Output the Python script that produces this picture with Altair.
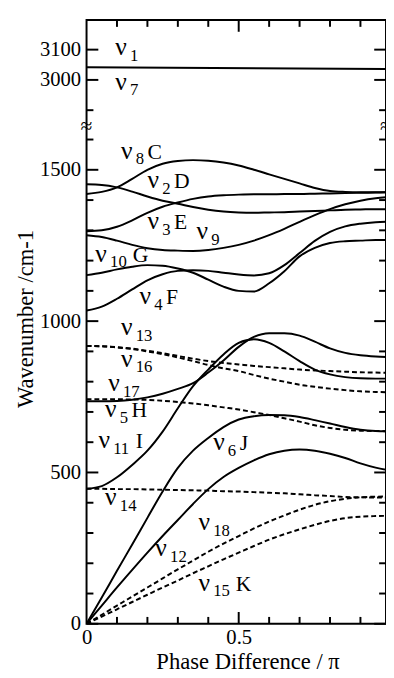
import altair as alt
import pandas as pd

# ---------------- data ----------------
phase = [0.0, 0.05, 0.1, 0.15, 0.2, 0.25, 0.3, 0.35, 0.4, 0.45, 0.5,
         0.55, 0.6, 0.65, 0.7, 0.75, 0.8, 0.85, 0.9, 0.95, 1.0]

# solid branches
nu8_C = [1420, 1427, 1442, 1470, 1500, 1520, 1529, 1532, 1530, 1524, 1514,
         1500, 1485, 1470, 1455, 1440, 1430, 1427, 1426, 1426, 1426]
nu2_D = [1452, 1450, 1442, 1428, 1412, 1398, 1388, 1377, 1368, 1362, 1359,
         1358, 1359, 1360, 1362, 1364, 1366, 1368, 1369, 1370, 1370]
nu3_E = [1297, 1300, 1312, 1333, 1358, 1378, 1392, 1404, 1412, 1416, 1418,
         1419, 1419, 1420, 1420, 1421, 1422, 1423, 1424, 1425, 1426]
nu9 = [1284, 1278, 1266, 1252, 1241, 1235, 1233, 1232, 1235, 1242, 1252,
       1266, 1284, 1305, 1328, 1350, 1370, 1386, 1398, 1406, 1410]
nu4_F = [1035, 1048, 1074, 1105, 1135, 1155, 1166, 1168, 1166, 1160, 1154,
         1151, 1158, 1185, 1225, 1265, 1295, 1313, 1322, 1327, 1329]
nu10_G = [1152, 1160, 1171, 1180, 1185, 1183, 1174, 1160, 1137, 1114, 1100,
          1098, 1125, 1165, 1214, 1242, 1258, 1264, 1266, 1268, 1268]
nu17s = [735, 735, 736, 740, 748, 760, 776, 795, 830, 870, 915,
         948, 960, 960, 952, 932, 910, 895, 887, 883, 881]
nu11_I = [446, 455, 484, 525, 572, 635, 712, 785, 840, 890, 928,
          940, 928, 900, 868, 840, 824, 815, 811, 810, 810]
nu6_J = [0, 87, 175, 262, 350, 437, 515, 572, 614, 650, 675,
         686, 690, 689, 683, 673, 662, 650, 641, 637, 636]
nu12 = [0, 60, 120, 178, 235, 290, 343, 396, 445, 485, 515,
        540, 560, 572, 576, 572, 562, 548, 530, 516, 506]

# dashed branches
nu13 = [918, 917, 914, 909, 902, 894, 885, 876, 868, 862, 857,
        852, 848, 844, 840, 837, 835, 833, 831, 830, 829]
nu16 = [918, 917, 913, 908, 900, 891, 880, 868, 855, 844, 835,
        822, 810, 800, 790, 783, 777, 772, 768, 766, 765]
nu5_H = [742, 742, 742, 741, 740, 737, 733, 728, 722, 715, 708,
         699, 690, 679, 668, 656, 647, 641, 638, 637, 636]
nu14 = [446, 446, 445, 445, 444, 443, 442, 441, 440, 438, 437,
        435, 433, 431, 428, 425, 422, 419, 418, 417, 417]
nu18 = [0, 30, 60, 90, 120, 150, 180, 209, 238, 265, 290,
        315, 338, 358, 377, 393, 405, 413, 418, 420, 421]
nu15_K = [0, 24, 48, 72, 96, 120, 143, 167, 190, 213, 235,
          257, 278, 296, 312, 327, 340, 349, 354, 356, 357]

# C-H stretching branch (upper part of the broken axis)
phase_top = [0.0, 1.0]
nu1_7 = [3042, 3036]

# labels: nu + subscript + optional letter, at (phase, wavenumber)
lab_sub = ["1", "7", "8", "2", "3", "9", "10", "4", "13", "16", "17", "5",
           "11", "6", "14", "18", "12", "15"]
lab_letter = ["", "", "C", "D", "E", "", "G", "F", "", "", "", "H",
              "I", "J", "", "", "", "K"]
lab_x = [0.094, 0.094, 0.113, 0.200, 0.200, 0.361, 0.029, 0.174, 0.113, 0.113,
         0.071, 0.061, 0.039, 0.416, 0.061, 0.368, 0.226, 0.368]
lab_y = [3081, 2968, 1537, 1440, 1304, 1271, 1197, 1057, 954, 850,
         769, 684, 581, 574, 392, 311, 224, 110]

y_tick_values = [0, 100, 200, 300, 400, 500, 600, 700, 800, 900, 1000, 1100,
                 1200, 1300, 1400, 1500, 1600, 2900, 3000, 3100]
y_label_values = [0, 500, 1000, 1500, 3000, 3100]
x_tick_values = [0.1, 0.2, 0.3, 0.4, 0.5, 0.6, 0.7, 0.8, 0.9]
x_label_values = [0, 0.5]
break_at = 1644

# ---------------- layout ----------------
SHIFT = 1203          # axis break: values above 2000 are drawn shifted down
W, H = 305, 615
X_MAX = 0.984
Y_MAX = 1995
FONT = "Liberation Serif"
yexpr = f"datum.wn > 2000 ? datum.wn - {SHIFT} : datum.wn"

solid = {"nu8": nu8_C, "nu2": nu2_D, "nu3": nu3_E, "nu9": nu9, "nu4": nu4_F,
         "nu10": nu10_G, "nu17s": nu17s, "nu11": nu11_I, "nu6": nu6_J,
         "nu12": nu12}
dashed = {"nu13": nu13, "nu16": nu16, "nu5": nu5_H, "nu14": nu14,
          "nu18": nu18, "nu15": nu15_K}

rows = []
for name, vals in solid.items():
    for p, v in zip(phase, vals):
        rows.append({"mode": name, "phase": p, "wn": v, "style": "solid"})
for name, vals in dashed.items():
    for p, v in zip(phase, vals):
        rows.append({"mode": name, "phase": p, "wn": v, "style": "dashed"})
for p, v in zip(phase_top, nu1_7):
    rows.append({"mode": "nu1_7", "phase": p, "wn": v, "style": "solid"})
df = pd.DataFrame(rows)

labels = pd.DataFrame({"sub": lab_sub, "letter": lab_letter,
                       "phase": lab_x, "wn": lab_y})
yt = pd.DataFrame({"wn": y_tick_values,
                   "major": [v in y_label_values for v in y_tick_values]})
xt = pd.DataFrame({"phase": x_tick_values,
                   "major": [v in x_label_values for v in x_tick_values]})
brk = pd.DataFrame({"phase": [0.0, X_MAX], "wn": [break_at, break_at]})

xs = alt.Scale(domain=[0, X_MAX], nice=False, zero=False)
ys = alt.Scale(domain=[0, Y_MAX], nice=False, zero=False)

axis_vals = [v - SHIFT if v > 2000 else v for v in y_label_values]

x_axis = alt.Axis(values=x_label_values, format="~g", title="Phase Difference / π",
                  ticks=False, tickSize=0, domain=False, grid=False,
                  labelPadding=3, labelFontSize=21, labelFont=FONT,
                  labelColor="black", labelFlush=False,
                  titleFont=FONT, titleFontSize=23, titleFontWeight="normal",
                  titleColor="black", titleX=164, titleY=46,
                  titleBaseline="alphabetic", titleAlign="center")
y_axis = alt.Axis(values=axis_vals,
                  labelExpr=f"datum.value > 1700 ? format(datum.value + {SHIFT}, 'd') : format(datum.value, 'd')",
                  title="Wavenumber /cm-1",
                  ticks=False, tickSize=0, domain=False, grid=False,
                  labelPadding=6, labelFontSize=21, labelFont=FONT,
                  labelColor="black", labelFlush=False,
                  titleFont=FONT, titleFontSize=23, titleFontWeight="normal",
                  titleColor="black", titleX=-55, titleY=304, titleAngle=-90,
                  titleBaseline="alphabetic", titleAlign="center")

# every layer uses the same axis definition so that they merge cleanly
lx = alt.X("phase:Q", scale=xs, axis=x_axis)
ly = alt.Y("yp:Q", scale=ys, axis=y_axis)

lines = alt.Chart(df).transform_calculate(yp=yexpr)

solid_layer = lines.transform_filter("datum.style == 'solid'").mark_line(
    color="black", strokeWidth=2, interpolate="monotone", clip=True
).encode(x=lx, y=ly, detail="mode:N")

dashed_layer = lines.transform_filter("datum.style == 'dashed'").mark_line(
    color="black", strokeWidth=2, strokeDash=[5, 3], interpolate="monotone",
    clip=True
).encode(x=lx, y=ly, detail="mode:N")

lab = alt.Chart(labels).transform_calculate(yp=yexpr)

nu_layer = lab.mark_text(text="ν", align="left", baseline="alphabetic",
                         font=FONT, fontSize=26, color="black").encode(x=lx, y=ly)
sub_layer = lab.mark_text(align="left", baseline="alphabetic", dx=15, dy=6,
                          font=FONT, fontSize=17, color="black").encode(
    x=lx, y=ly, text="sub:N")
let1 = lab.transform_filter("length(datum.sub) == 1 && datum.letter != ''").mark_text(
    align="left", baseline="alphabetic", dx=27, font=FONT, fontSize=22,
    color="black").encode(x=lx, y=ly, text="letter:N")
let2 = lab.transform_filter("length(datum.sub) == 2 && datum.letter != ''").mark_text(
    align="left", baseline="alphabetic", dx=38, font=FONT, fontSize=22,
    color="black").encode(x=lx, y=ly, text="letter:N")

# inward ticks on all four sides
ytk = alt.Chart(yt).transform_calculate(yp=yexpr)
xtk = alt.Chart(xt)
tick_layers = []
for flag, ln in (("datum.major", 12), ("!datum.major", 7)):
    tick_layers.append(ytk.transform_filter(flag).mark_rule(color="black", strokeWidth=2)
                       .encode(y=ly, x=alt.value(0), x2=alt.value(ln)))
    tick_layers.append(ytk.transform_filter(flag).mark_rule(color="black", strokeWidth=2)
                       .encode(y=ly, x=alt.value(W - ln), x2=alt.value(W)))
    tick_layers.append(xtk.transform_filter(flag).mark_rule(color="black", strokeWidth=2)
                       .encode(x=lx, y=alt.value(H), y2=alt.value(H - ln)))
    tick_layers.append(xtk.transform_filter(flag).mark_rule(color="black", strokeWidth=2)
                       .encode(x=lx, y=alt.value(0), y2=alt.value(ln)))

break_layer = alt.Chart(brk).transform_calculate(yp=yexpr).mark_text(
    text="≈", align="center", baseline="middle", font=FONT, fontSize=22,
    color="black").encode(x=lx, y=ly)

chart = alt.layer(
    solid_layer, dashed_layer, *tick_layers, nu_layer, sub_layer, let1, let2,
    break_layer
).properties(
    width=W, height=H,
    autosize=alt.AutoSizeParams(type="none"),
    padding={"left": 80, "top": 6, "right": 0, "bottom": 49},
    background="white",
).configure_view(stroke="black", strokeWidth=2)

chart.save("out.html", embed_options={"renderer": "svg", "actions": False})
